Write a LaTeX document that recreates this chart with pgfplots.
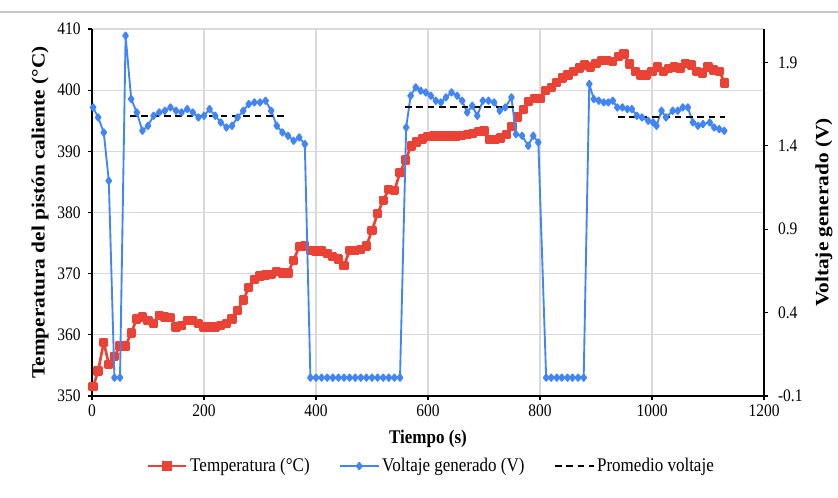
\documentclass[border=0pt]{standalone}
\usepackage{graphicx}
\usepackage{pgfplots}
\pgfplotsset{compat=1.18}
\usepackage{fontspec}
\setmainfont{Liberation Serif}[FakeStretch=0.88]
\newfontfamily\ytitlefont{Liberation Serif}
\definecolor{tred}{HTML}{EA4335}
\definecolor{vblue}{HTML}{4285F4}
\definecolor{gridgray}{HTML}{D9D9D9}

\begin{document}
\begin{tikzpicture}
\path[use as bounding box] (-69pt,-75.75pt) rectangle (559.5pt,297pt);
\draw[gray!45, line width=0.8pt] (-69pt,288pt) -- (559.5pt,288pt);
\begin{axis}[
  at={(0,0)}, anchor=south west,
  width=504pt, height=275.25pt, scale only axis,
  xmin=0, xmax=1200, ymin=350, ymax=410,
  xtick={0,200,...,1200}, ytick={350,360,...,410},
  axis x line*=bottom, axis y line*=left,
  axis line style={black, line width=0.9pt},
  grid=major, major grid style={gridgray, line width=0.9pt},
  tick align=outside, major tick length=3pt,
  tick style={black, line width=0.9pt},
  /pgf/number format/assume math mode=true,
  /pgf/number format/1000 sep={},
  ticklabel style={font=\fontsize{13.2}{15}\selectfont},
  yticklabel style={xshift=-2pt},
  xlabel={Tiempo (s)},
  xlabel style={at={(axis description cs:0.5,-0.117)}, anchor=center, font=\fontsize{14.5}{16}\selectfont\bfseries},
  ylabel={\scalebox{1}[0.88]{Temperatura del pistón caliente (°C)}},
  ylabel style={at={(axis description cs:-0.0774,0.5)}, anchor=center, font=\ytitlefont\bfseries\fontsize{16}{18}\selectfont},
  clip=false,
]
\addplot[tred, line width=2pt, line join=round, mark=square*, mark size=2.5pt, mark options={solid}] coordinates {
(2,351.5) (11,354.1) (21,358.8) (30,355.2) (40,356.5) (50,358.2) (60,358.2) (70,360.3)
(80,362.6) (90,362.9) (100,362.3) (110,361.8) (120,363.2) (130,362.9) (140,362.8) (150,361.3)
(160,361.5) (170,362.3) (180,362.3) (190,361.8) (200,361.3) (210,361.3) (220,361.3) (230,361.5)
(240,361.8) (250,362.6) (260,364.0) (270,365.7) (280,367.7) (290,369.0) (300,369.6) (310,369.8)
(320,369.9) (330,370.4) (340,370.1) (350,370.1) (360,372.2) (370,374.4) (380,374.5) (390,373.8)
(400,373.7) (410,373.7) (420,373.3) (430,372.8) (440,372.4) (450,371.3) (460,373.8) (470,373.8)
(480,373.9) (490,374.5) (500,377.1) (510,379.8) (520,382.0) (530,383.8) (540,383.6) (550,386.5)
(560,388.6) (570,390.9) (580,391.5) (590,392.0) (600,392.4) (610,392.5) (620,392.5) (630,392.5)
(640,392.5) (650,392.5) (660,392.6) (670,392.7) (680,392.9) (690,393.2) (700,393.3) (710,391.9)
(720,391.9) (730,392.2) (740,392.7) (750,394.1) (760,395.6) (770,396.8) (780,398.2) (790,398.6)
(800,398.6) (810,399.9) (820,400.4) (830,401.3) (840,402.0) (850,402.5) (860,403.1) (870,403.6)
(880,404.1) (890,403.8) (900,404.4) (910,404.8) (920,404.8) (930,404.7) (940,405.5) (950,405.9)
(960,404.3) (970,403.1) (980,402.5) (990,402.5) (1000,403.0) (1010,403.8) (1020,403.1) (1030,403.5)
(1040,403.8) (1050,403.6) (1060,404.4) (1070,404.1) (1080,403.1) (1090,402.8) (1100,403.8) (1110,403.3)
(1120,403.1) (1130,401.2)
};
\end{axis}
\begin{axis}[
  at={(0,0)}, anchor=south west,
  width=504pt, height=275.25pt, scale only axis,
  xmin=0, xmax=1200, ymin=-0.1, ymax=2.1,
  axis x line=none, axis y line*=right,
  axis line style={black, line width=0.9pt},
  ytick={-0.1,0.4,0.9,1.4,1.9},
  yticklabels={-0.1,0.4,0.9,1.4,1.9},
  tick align=outside, major tick length=3pt,
  tick style={black, line width=0.9pt},
  ticklabel style={font=\fontsize{13.2}{15}\selectfont},
  yticklabel style={xshift=4pt},
  ylabel={\scalebox{1}[0.88]{Voltaje generado (V)}},
  ylabel style={at={(axis description cs:1.089,0.5)}, anchor=center, font=\ytitlefont\bfseries\fontsize{16}{18}\selectfont},
  unbounded coords=jump,
  clip=false,
  legend image code/.code={\draw[mark repeat=2,mark phase=2,#1] plot coordinates {(0pt,0pt) (14.5pt,0pt) (29pt,0pt)};},
  legend style={at={(axis description cs:0.505,-0.191)}, anchor=center, draw=none, fill=none,
    legend columns=3, font=\fontsize{14.5}{16}\selectfont,
    /tikz/every even column/.append style={column sep=20pt},
    /tikz/every odd column/.append style={inner xsep=1pt}},
  legend cell align=left,
]
\addlegendimage{tred, line width=2pt, mark=square*, mark size=2.5pt, mark options={solid}}
\addlegendentry{Temperatura (°C)}
\addplot[vblue, line width=1.4pt, line join=round, mark=diamond*, mark size=2.4pt, mark options={solid}] coordinates {
(2,1.63) (11,1.57) (21,1.48) (30,1.19) (40,0.01) (50,0.01) (60,2.06) (70,1.68)
(80,1.60) (90,1.49) (100,1.52) (110,1.58) (120,1.60) (130,1.61) (140,1.63) (150,1.61)
(160,1.60) (170,1.62) (180,1.60) (190,1.57) (200,1.58) (210,1.62) (220,1.58) (230,1.54)
(240,1.51) (250,1.52) (260,1.57) (270,1.61) (280,1.65) (290,1.66) (300,1.66) (310,1.67)
(320,1.61) (330,1.52) (340,1.48) (350,1.46) (360,1.43) (370,1.45) (380,1.41)
(390,0.01) (400,0.01) (410,0.01) (420,0.01) (430,0.01) (440,0.01) (450,0.01) (460,0.01)
(470,0.01) (480,0.01) (490,0.01) (500,0.01) (510,0.01) (520,0.01) (530,0.01) (540,0.01) (550,0.01)
(561,1.51) (569,1.70) (578,1.75) (587,1.73) (596,1.72) (605,1.70) (614,1.67) (623,1.66)
(632,1.69) (642,1.72) (652,1.70) (661,1.67) (670,1.60) (679,1.64) (688,1.58) (698,1.67)
(708,1.67) (718,1.66) (728,1.61) (738,1.63) (749,1.69) (757,1.47) (768,1.46) (779,1.40)
(788,1.46) (797,1.42)
(811,0.01) (820,0.01) (830,0.01) (839,0.01) (849,0.01) (858,0.01) (868,0.01) (878,0.01)
(888,1.77) (896,1.68) (905,1.67) (914,1.66) (922,1.66) (930,1.67) (938,1.63) (947,1.63)
(956,1.62) (964,1.62) (973,1.58) (982,1.57) (993,1.55) (1002,1.54) (1008,1.52) (1017,1.61)
(1025,1.57) (1037,1.61) (1046,1.61) (1055,1.63) (1064,1.63) (1073,1.54) (1082,1.52) (1091,1.53)
(1103,1.54) (1111,1.51) (1120,1.50) (1129,1.49)
};
\addlegendentry{Voltaje generado (V)}
\addplot[black, line width=1.4pt, dash pattern=on 5pt off 3.5pt] coordinates {
(68,1.58) (345,1.58) (450,nan) (559,1.63) (754,1.63) (850,nan) (939,1.57) (1130,1.57)
};
\addlegendentry{Promedio voltaje}
\end{axis}
\end{tikzpicture}
\end{document}
